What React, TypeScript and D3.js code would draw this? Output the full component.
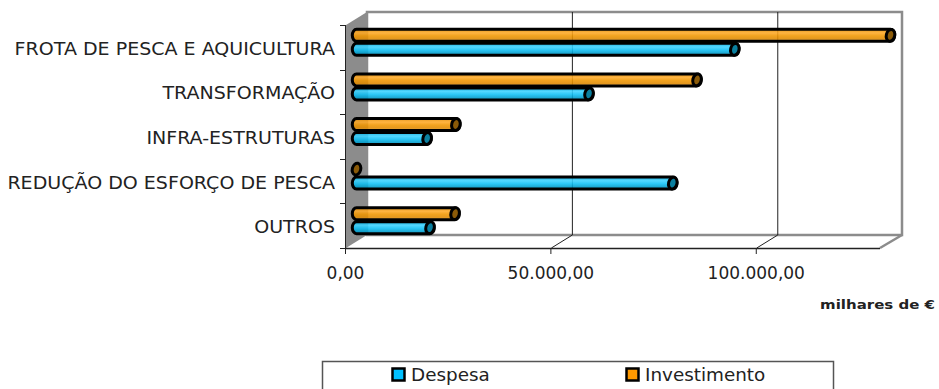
import React from "react";
import * as d3 from "d3";

const categories = ["FROTA DE PESCA E AQUICULTURA", "TRANSFORMAÇÃO", "INFRA-ESTRUTURAS", "REDUÇÃO DO ESFORÇO DE PESCA", "OUTROS"];
const despesa = [92100, 56600, 17200, 77000, 17900];
const investimento = [130000, 82900, 24200, 0, 24000];
const xTicks = [0, 50000, 100000];
const tickText = ["0,00", "50.000,00", "100.000,00"];

const font = "'DejaVu Sans', Verdana, sans-serif";
const depthX = 21;
const depthY = 13;
const left = 346;
const floorY = 248;
const topY = 25;

const x = d3.scaleLinear().domain([0, 130000]).range([left, left + 534]);
const band = d3.scaleBand<string>().domain(categories).range([topY, floorY]);

// Text widened horizontally about its anchor point
function Wide({ x: tx, y, sx, size, anchor, weight, children }: any) {
  return (
    <text
      transform={`translate(${tx} ${y}) scale(${sx} 1)`}
      textAnchor={anchor}
      fontFamily={font}
      fontSize={size}
      fontWeight={weight}
      fill="#222"
    >
      {children}
    </text>
  );
}

function Cylinder({ value, cy, side, capFill }: any) {
  const r = 6;
  const rx = 4.2;
  const x0 = x(0) + depthX / 2;
  const x1 = x(value) + depthX / 2;
  const body = `M${x0},${cy - r}L${x1},${cy - r}A${rx},${r} 0 0 1 ${x1},${cy + r}L${x0},${cy + r}A${rx},${r} 0 0 1 ${x0},${cy - r}Z`;
  return (
    <g>
      {value > 0 && <path d={body} fill={`url(#${side})`} stroke="#000" strokeWidth={3} />}
      <ellipse cx={x1} cy={cy} rx={rx} ry={r} fill={capFill} stroke="#000" strokeWidth={3} transform={`rotate(14 ${x1} ${cy})`} />
    </g>
  );
}

function Gradient({ id, stops }: { id: string; stops: [number, string][] }) {
  return (
    <linearGradient id={id} x1="0" y1="0" x2="0" y2="1">
      {stops.map(([o, c]) => <stop key={o} offset={o} stopColor={c} stopOpacity={0.88} />)}
    </linearGradient>
  );
}

export default function App() {
  return (
    <svg width={939} height={389} style={{ position: "absolute", left: 0, top: 0, background: "#fff" }}>
      <defs>
        <Gradient id="blueSide" stops={[[0, "#00a6d8"], [0.3, "#3cd2ff"], [0.55, "#10c0f5"], [0.8, "#00a0d0"], [1, "#0090c0"]]} />
        <Gradient id="orangeSide" stops={[[0, "#e08a00"], [0.3, "#ffaa28"], [0.55, "#f09600"], [0.8, "#e08a00"], [1, "#f0a840"]]} />
      </defs>

      {/* back wall, left wall */}
      <path d={`M${left + depthX},${floorY - depthY}V${topY - depthY}H${x(130000) + depthX + 1}V${floorY - depthY}Z`} fill="#fff" stroke="#8c8c8c" strokeWidth={2.5} />
      <path d={`M${left},${topY}L${left + depthX},${topY - depthY}V${floorY - depthY}L${left},${floorY}Z`} fill="#8c8c8c" />
      <path d={`M${x(130000) + depthX + 1},${floorY - depthY}L${x(130000)},${floorY}`} stroke="#8c8c8c" strokeWidth={2.5} fill="none" />

      {/* gridlines across the wall and floor */}
      {xTicks.slice(1).map(t => (
        <path key={t} d={`M${x(t) + depthX},${topY - depthY}V${floorY - depthY}L${x(t)},${floorY}`} stroke="#222" fill="none" strokeWidth={1} />
      ))}

      {/* value axis */}
      <path d={`M${left},${floorY + 0.5}H${x(130000)}`} stroke="#222" strokeWidth={1.5} />
      {xTicks.map((t, i) => (
        <g key={t}>
          <line x1={x(t) - 0.5} x2={x(t) - 0.5} y1={floorY} y2={floorY + 6} stroke="#222" />
          <text x={x(t) - 0.5} y={279} textAnchor="middle" fontFamily={font} fontSize={17} fill="#222">{tickText[i]}</text>
        </g>
      ))}

      {/* category axis */}
      <path d={`M${left - 0.5},${topY}V${floorY + 6}`} stroke="#222" />
      {d3.range(categories.length + 1).map(i => {
        const y = topY + i * band.step();
        return <line key={i} x1={left - 6} x2={left} y1={Math.round(y) + 0.5} y2={Math.round(y) + 0.5} stroke="#222" />;
      })}
      {categories.map(c => (
        <Wide key={c} x={335} y={(band(c) as number) + band.step() / 2 + 7.5} sx={1.12} size={17} anchor="end">{c}</Wide>
      ))}

      {/* cylinders, each category holds one pair */}
      {categories.map((c, i) => {
        const mid = (band(c) as number) + band.step() / 2 - depthY / 2 + 1.5;
        return (
          <g key={c}>
            <Cylinder value={despesa[i]} cy={mid + 7} side="blueSide" capFill="#0a7f9f" />
            <Cylinder value={investimento[i]} cy={mid - 7} side="orangeSide" capFill="#8a5a08" />
          </g>
        );
      })}

      <Wide x={935} y={309} sx={1.2} size={12.5} anchor="end" weight="bold">milhares de €</Wide>

      {/* legend */}
      <rect x={322.5} y={361.5} width={511} height={40} fill="#fff" stroke="#555" strokeWidth={1.5} />
      <rect x={392.5} y={368.5} width={12} height={12} fill="#00c0ff" stroke="#000" strokeWidth={2.5} />
      <Wide x={411} y={381} sx={1.08} size={17} anchor="start">Despesa</Wide>
      <rect x={626.5} y={368.5} width={12} height={12} fill="#ff9900" stroke="#000" strokeWidth={2.5} />
      <Wide x={645} y={381} sx={1.08} size={17} anchor="start">Investimento</Wide>
    </svg>
  );
}
